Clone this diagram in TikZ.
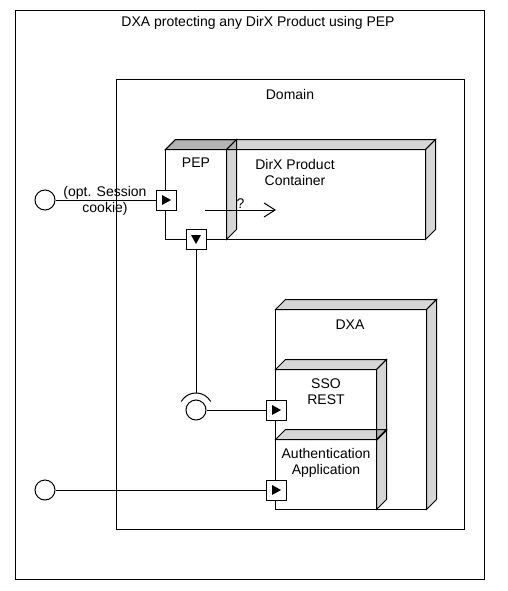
\documentclass[tikz,border=0pt]{standalone}
\usepackage{fontspec}
\setmainfont{Liberation Sans}
\usetikzlibrary{arrows.meta}

\begin{document}
\begin{tikzpicture}[x=1pt,y=-1pt,line width=1pt,
  every node/.style={font=\fontsize{14}{16}\selectfont},
  umlbox/.style={inner sep=0pt},
  face/.style={fill=black,fill opacity=0.16},
  port/.style={draw,fill=white,minimum size=20pt,inner sep=0pt},
  iface/.style={draw,fill=white,circle,minimum size=20pt,inner sep=0pt}]

  % Fix the page to the size of the reference
  \useasboundingbox (0,0) rectangle (507,591);

  % Define depth of the 3D boxes
  \def\nd{10}

  % Draw the frame and the domain
  \draw (15,11) rectangle (484,579);
  \node (title) at (258,23) {DXA protecting any DirX Product using PEP};
  \draw (116,80) rectangle (464,529);
  \node (domain) at (290,94) {Domain};

  % Place the boxes (front faces only)
  \node[umlbox,minimum width=259pt,minimum height=89pt] (dirx) at (295.5,194.5) {};
  \node[umlbox,minimum width=60pt,minimum height=89pt] (pep) at (196,194.5) {};
  \node[umlbox,minimum width=150pt,minimum height=199pt] (dxa) at (351,409.5) {};
  \node[umlbox,minimum width=100pt,minimum height=70pt] (sso) at (326,405) {};
  \node[umlbox,minimum width=100pt,minimum height=69pt] (auth) at (326,474.5) {};

  % Draw each box with its top and side faces
  \foreach \b in {dirx,pep,dxa,sso,auth}{
    \filldraw[fill=white] (\b.north west) rectangle (\b.south east);
    \filldraw[face] (\b.north west) -- ++(\nd,-\nd) -- ([shift={(\nd,-\nd)}]\b.north east)
      -- (\b.north east) -- cycle;
    \filldraw[face] (\b.north east) -- ++(\nd,-\nd) -- ([shift={(\nd,-\nd)}]\b.south east)
      -- (\b.south east) -- cycle;
  }

  % Labels of the boxes
  \node (peplabel) at (196,163) {PEP};
  \node[align=center] (dirxlabel) at (295,172.5) {DirX Product\\Container};
  \node (dxalabel) at (350,325) {DXA};
  \node[align=center] (ssolabel) at (326,391.5) {SSO\\REST};
  \node[align=center] (authlabel) at (326,462.5) {Authentication\\Application};

  % Interfaces
  \node[iface] (sessionif) at (45,200) {};
  \node[iface] (loginif) at (45,490) {};
  \node[iface] (ssoreq) at (196,410) {};
  \draw ([shift={(210:17)}]ssoreq.center) arc[start angle=210,end angle=330,radius=17];
  \path (ssoreq.center) ++(0,-17) coordinate (sockettop);

  % Ports
  \node[port] (pepin) at (166,200) {};
  \node[port] (pepout) at (196,239) {};
  \node[port] (ssoin) at (276,410) {};
  \node[port] (authin) at (276,490) {};
  \foreach \p in {pepin,ssoin,authin}
    \fill ([shift={(-4,-5)}]\p.center) -- ([shift={(-4,5)}]\p.center)
      -- ([shift={(5,0)}]\p.center) -- cycle;
  \fill ([shift={(-5,-4)}]pepout.center) -- ([shift={(5,-4)}]pepout.center)
    -- ([shift={(0,5)}]pepout.center) -- cycle;

  % Connectors
  \draw (sessionif) -- (pepin);
  \node[align=center] (sessionlabel) at (105,201) {(opt. Session\\cookie)};
  \draw (pepout.south) -- (sockettop);
  \draw (ssoreq) -- (ssoin);
  \draw (loginif) -- (authin);

  % Forwarding inside the PEP
  \coordinate (probestart) at (205,210);
  \coordinate (probeend) at (276,210);
  \draw[-{Straight Barb[length=11pt,width=14pt]}] (probestart) -- node[above,inner sep=1pt] {?} (probeend);

\end{tikzpicture}
\end{document}
